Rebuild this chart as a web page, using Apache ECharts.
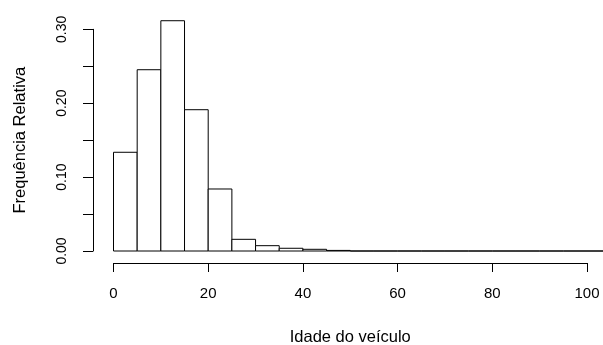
<!DOCTYPE html>
<html>
<head>
<meta charset="utf-8">
<script src="https://cdn.jsdelivr.net/npm/echarts@6/dist/echarts.min.js"></script>
<style>
  html, body { margin: 0; padding: 0; background: #fff; }
  #chart { width: 603px; height: 345px; }
</style>
</head>
<body>
<div id="chart"></div>
<script>
// Histogram of vehicle age: class limits (years) and relative frequency per class
const binStarts = [0, 5, 10, 15, 20, 25, 30, 35, 40, 45, 50, 55, 60, 65, 70, 75, 80, 85, 90, 95, 100, 105];
const binWidth = 5;
const relFreq = [0.1336, 0.2453, 0.3116, 0.1912, 0.0839, 0.0158, 0.0072, 0.0037, 0.0023, 0.0008,
                 0, 0, 0, 0, 0, 0, 0, 0, 0, 0, 0, 0];
const xTicks = [0, 20, 40, 60, 80, 100];
const yTicks = [0, 0.05, 0.10, 0.15, 0.20, 0.25, 0.30];
const yLabelled = [0, 0.10, 0.20, 0.30];

const FONT = 'Liberation Sans, Arial, sans-serif';
const chart = echarts.init(document.getElementById('chart'), null, { renderer: 'canvas' });

const bars = binStarts.map((s, i) => [s, s + binWidth, relFreq[i]]);

chart.setOption({
  animation: false,
  backgroundColor: '#fff',
  grid: { left: 113.5, right: 16, top: 29.3, bottom: 94, containLabel: false, outerBoundsMode: 'none' },
  xAxis: {
    type: 'value',
    min: xTicks[0], max: xTicks[xTicks.length - 1], interval: 20,
    offset: 12,
    name: 'Idade do veículo',
    nameLocation: 'middle',
    nameGap: 66,
    nameTextStyle: { fontFamily: FONT, fontSize: 16.5, color: '#000' },
    axisLine: { show: true, onZero: false, lineStyle: { color: '#000', width: 1 } },
    axisTick: { show: true, length: 9, lineStyle: { color: '#000' } },
    axisLabel: { margin: 23, fontFamily: FONT, fontSize: 15, color: '#000' },
    splitLine: { show: false }
  },
  yAxis: {
    type: 'value',
    min: yTicks[0], max: yTicks[yTicks.length - 1], interval: 0.05,
    offset: 20.5,
    name: 'Frequência Relativa',
    nameLocation: 'middle',
    nameRotate: 90,
    nameGap: 64,
    nameTextStyle: { fontFamily: FONT, fontSize: 16.5, color: '#000' },
    axisLine: { show: true, onZero: false, lineStyle: { color: '#000', width: 1 } },
    axisTick: { show: true, length: 10, lineStyle: { color: '#000' } },
    axisLabel: {
      rotate: 90,
      margin: 24,
      fontFamily: FONT, fontSize: 14, color: '#000',
      formatter: v => yLabelled.some(t => Math.abs(t - v) < 1e-9) ? v.toFixed(2) : ''
    },
    splitLine: { show: false }
  },
  series: [{
    type: 'custom',
    clip: false,
    data: bars,
    encode: { x: [0, 1], y: 2 },
    renderItem: (params, api) => {
      const p0 = api.coord([api.value(0), 0]);
      const p1 = api.coord([api.value(1), api.value(2)]);
      return {
        type: 'rect',
        shape: { x: p0[0], y: p1[1], width: p1[0] - p0[0], height: p0[1] - p1[1] },
        style: { fill: '#fff', stroke: '#000', lineWidth: 1 }
      };
    }
  }]
});
</script>
</body>
</html>
